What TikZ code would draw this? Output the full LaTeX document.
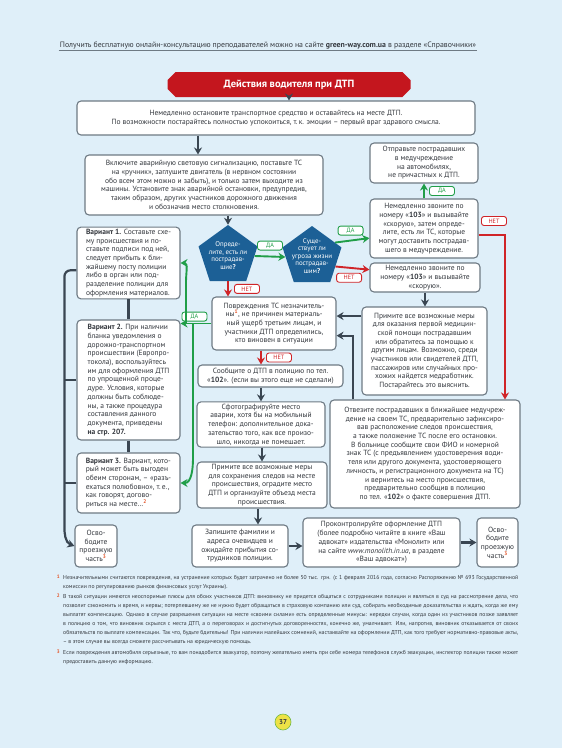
\documentclass[tikz,border=0pt]{standalone}
\usepackage{fontspec}
\setmainfont{PT Sans}
\usepackage{tikz}
\usetikzlibrary{arrows.meta, shapes.geometric, shapes.misc}
\usepackage{xcolor}
\definecolor{pageBg}{RGB}{223, 239, 249}
\definecolor{boxLine}{RGB}{110, 122, 132}
\definecolor{inkGray}{RGB}{52, 56, 62}
\definecolor{arrowGray}{RGB}{58, 70, 82}
\definecolor{okGreen}{RGB}{32, 158, 72}
\definecolor{noRed}{RGB}{208, 36, 40}
\definecolor{pentBlue}{RGB}{28, 96, 150}
\definecolor{titleRed}{RGB}{196, 22, 30}
\definecolor{noteRed}{RGB}{228, 84, 40}
\definecolor{pageYellow}{RGB}{238, 226, 70}

\newcommand\boxfont{\fontsize{7.5}{8.7}\selectfont}
\newcommand\fnref[1]{\textsuperscript{\textcolor{noteRed}{\bfseries #1}}}

\begin{document}
\begin{tikzpicture}[x=1pt, y=1pt, font=\boxfont, text=inkGray,
  box/.style={draw=boxLine, fill=white, rounded corners=4pt, line width=1.1pt,
              align=center, inner sep=2pt},
  varbox/.style={box, align=left},
  penta/.style={regular polygon, regular polygon sides=5, minimum size=62pt,
                inner sep=-13pt, fill=pentBlue, text=white, align=center,
                font=\fontsize{6.9}{7.5}\selectfont},
  yeslab/.style={draw=okGreen, fill=white, text=okGreen, rounded corners=2.5pt,
                 line width=0.9pt, font=\fontsize{6.2}{6.2}\selectfont,
                 minimum width=25pt, minimum height=9pt, inner sep=0.5pt},
  nolab/.style={yeslab, draw=noRed, text=noRed},
  darr/.style={-{Stealth[length=7pt,width=8pt]}, line width=2.2pt, draw=arrowGray},
  garr/.style={darr, line width=1.9pt, draw=okGreen},
  rarr/.style={darr, line width=1.9pt, draw=noRed},
  link/.style={line width=2.2pt, draw=arrowGray},
  footnote/.style={text width=455pt, align=justify, inner sep=0pt,
                   font=\fontsize{5.7}{9}\selectfont},
  fnnum/.style={text=noteRed, inner sep=0pt, font=\fontsize{5}{5}\bfseries}]

  % Page
  \useasboundingbox (0,0) rectangle (562,-748);
  \fill[pageBg] (0,0) rectangle (562,-748);

  % Running head
  \node[font=\fontsize{7.8}{8}\selectfont, inner sep=1pt] (runhead) at (268,-45)
    {Получить бесплатную онлайн-консультацию преподавателей можно на сайте
     \textbf{green-way.com.ua} в разделе «Справочники»};
  \draw[boxLine, line width=0.7pt] (runhead.south west) -- (runhead.south east);

  % Title
  \node[chamfered rectangle, chamfered rectangle xsep=5pt, fill=titleRed, text=white,
        minimum width=243pt, minimum height=25pt, inner sep=0pt,
        font=\fontsize{10.5}{12}\bfseries] (head) at (289,-84.5)
    {Действия водителя при ДТП};

  % Main column
  \node[box, minimum width=398pt, minimum height=34pt] (stop) at (276,-118)
    {Немедленно остановите транспортное средство и оставайтесь на месте ДТП.\\
     По возможности постарайтесь полностью успокоиться, т.\,к. эмоции – первый враг здравого смысла.};
  \node[box, minimum width=238pt, minimum height=60pt] (lights) at (204,-185)
    {Включите аварийную световую сигнализацию, поставьте ТС\\
     на «ручник», заглушите двигатель (в нервном состоянии\\
     обо всем этом можно и забыть), и только затем выходите из\\
     машины. Установите знак аварийной остановки, предупредив,\\
     таким образом, других участников дорожного движения\\
     и обозначив место столкновения.};
  \node[penta] (pentHurt) at (228,-256)
    {\\[-3pt]Опреде-\\лите, есть ли\\пострадав-\\шие\textbf{?}};
  \node[penta] (pentRisk) at (312,-257)
    {\\[-5pt]Суще-\\ствует ли\\угроза жизни\\пострадав-\\шим\textbf{?}};
  \node[box, minimum width=124pt, minimum height=53pt] (minor) at (274,-323.5)
    {Повреждения ТС незначитель-\\
     ны\fnref{1}, не причинен материаль-\\
     ный ущерб третьим лицам, и\\
     участники ДТП определились,\\
     кто виновен в ситуации};
  \node[box, minimum width=145pt, minimum height=22pt] (police) at (270.5,-376)
    {Сообщите о ДТП в полицию по тел.\\
     «\textbf{102}». (если вы этого еще не сделали)};
  \node[box, minimum width=128pt, minimum height=45pt] (photo) at (261,-424.5)
    {Сфотографируйте место\\
     аварии, хотя бы на мобильный\\
     телефон: дополнительное дока-\\
     зательство того, как все произо-\\
     шло, никогда не помешает.};
  \node[box, minimum width=130pt, minimum height=46pt] (keep) at (262,-485)
    {Примите все возможные меры\\
     для сохранения следов на месте\\
     происшествия, оградите место\\
     ДТП и организуйте объезд места\\
     происшествия.};
  \node[box, minimum width=96pt, minimum height=42pt] (witness) at (240,-546)
    {Запишите фамилии и\\
     адреса очевидцев и\\
     ожидайте прибытия со-\\
     трудников полиции.};
  \node[box, minimum width=157pt, minimum height=49pt] (check) at (381.5,-542.5)
    {Проконтролируйте оформление ДТП\\
     (более подробно читайте в книге «Ваш\\
     адвокат» издательства «Монолит» или\\
     на сайте \textit{www.monolith.in.ua}, в разделе\\
     «Ваш адвокат»)};
  \node[box, minimum width=41pt, minimum height=49pt] (clearR) at (497.5,-542.5)
    {Осво-\\бодите\\проезжую\\часть\fnref{3}};

  % Right column
  \node[box, minimum width=108pt, minimum height=40pt] (send) at (424,-163)
    {Отправьте пострадавших\\
     в медучреждение\\
     на автомобилях,\\
     не причастных к ДТП.};
  \node[box, minimum width=108pt, minimum height=59pt] (call) at (424,-228.5)
    {Немедленно звоните по\\
     номеру «\textbf{103}» и вызывайте\\
     «скорую», затем опреде-\\
     лите, есть ли ТС, которые\\
     могут доставить пострадав-\\
     шего в медучреждение.};
  \node[box, minimum width=110pt, minimum height=29pt] (amb) at (425,-277.5)
    {Немедленно звоните по\\
     номеру «\textbf{103}» и вызывайте\\
     «скорую».};
  \node[box, minimum width=125pt, minimum height=88pt] (aid) at (424.5,-351)
    {Примите все возможные меры\\
     для оказания первой медицин-\\
     ской помощи пострадавшим\\
     или обратитесь за помощью к\\
     другим лицам. Возможно, среди\\
     участников или свидетелей ДТП,\\
     пассажиров или случайных про-\\
     хожих найдется медработник.\\
     Постарайтесь это выяснить.};
  \node[box, minimum width=190pt, minimum height=108pt] (drive) at (425,-454)
    {Отвезите пострадавших в ближайшее медучреж-\\
     дение на своем ТС, предварительно зафиксиро-\\
     вав расположение следов происшествия,\\
     а также положение ТС после его остановки.\\
     В больнице сообщите свои ФИО и номерной\\
     знак ТС (с предъявлением удостоверения води-\\
     теля или другого документа, удостоверяющего\\
     личность, и регистрационного документа на ТС)\\
     и вернитесь на место происшествия,\\
     предварительно сообщив в полицию\\
     по тел. «\textbf{102}» о факте совершения ДТП.};

  % Left column
  \node[varbox, minimum width=103pt, minimum height=70pt] (varA) at (128.5,-263)
    {\textbf{Вариант 1.} Составьте схе-\\
     му происшествия и по-\\
     ставьте подписи под ней,\\
     следует прибыть к бли-\\
     жайшему посту полиции\\
     либо в орган или под-\\
     разделение полиции для\\
     оформления материалов.};
  \node[varbox, minimum width=103pt, minimum height=120pt] (varB) at (128.5,-380)
    {\textbf{Вариант 2.} При наличии\\
     бланка уведомления о\\
     дорожно-транспортном\\
     происшествии (Европро-\\
     токола), воспользуйтесь\\
     им для оформления ДТП\\
     по упрощенной проце-\\
     дуре. Условия, которые\\
     должны быть соблюде-\\
     ны, а также процедура\\
     составления данного\\
     документа, приведены\\
     \textbf{на стр. 207.}};
  \node[varbox, minimum width=103pt, minimum height=60pt] (varC) at (128.5,-483)
    {\textbf{Вариант 3.} Вариант, кото-\\
     рый может быть выгоден\\
     обеим сторонам, – «разъ-\\
     ехаться полюбовно», т.\,е.,\\
     как говорят, догово-\\
     риться на месте…\fnref{2}};
  \node[box, minimum width=42pt, minimum height=42pt] (clearL) at (96,-546)
    {Осво-\\бодите\\проезжую\\часть\fnref{3}};

  % Dark connectors
  \coordinate (colA) at (198,0);
  \coordinate (colB) at (258,0);
  \draw[darr] (head.south) -- (head.south |- stop.north);
  \draw[darr] (colA |- stop.south) -- (colA |- lights.north);
  \draw[darr] (pentHurt.north |- lights.south) -- (pentHurt.north);
  \draw[darr] (amb.south) -- (amb.south |- aid.north);
  \draw[darr] (aid.151) -- (aid.151 -| minor.east);
  \draw[darr] (drive.143) |- (minor.-11);
  \draw[darr] (photo.north |- police.south) -- (photo.north);
  \draw[darr] (keep.north |- photo.south) -- (keep.north);
  \draw[darr] (colB |- keep.south) -- (colB |- witness.north);
  \draw[darr] (witness.east) -- (witness.east -| check.west);
  \draw[darr] (check.east) -- (clearR.west);
  \draw[link] (varA.south) -- (varB.north);
  \draw[link] (varB.south) -- (varC.north);
  \draw[link] (varB.west) -- ++(-12,0);
  \draw[link] (varC.west) -- ++(-12,0);
  \draw[darr, rounded corners=6pt] (varA.188) -- ++(-12,0) -- ++(0,-252)
    to[out=-90, in=160] (clearL.west);

  % Yes branches
  \draw[garr] (pentHurt.east) -- (pentRisk.west)
    node[yeslab, midway, above=6pt] (yesHurt) {ДА};
  \draw[garr] (pentRisk.32) -- (call.190)
    node[yeslab, pos=0.45, above=5pt] (yesRisk) {ДА};
  \draw[garr] (call.north) -- (send.south)
    node[yeslab, midway, right=5pt] (yesCar) {ДА};
  \coordinate (jDown) at (193,-323.5);
  \coordinate (jUp) at (186,-323.5);
  \draw[garr] (minor.west) -- (minor.west -| varB.east)
    node[yeslab, pos=0.55, above=2pt] (yesMinor) {ДА};
  \draw[garr] (jUp) -- ++(0,42) to[out=90, in=0] (varA.east);
  \draw[garr] (jDown) -- ++(0,-135) to[out=-90, in=0] (varC.east);

  % No branches
  \draw[rarr] (pentHurt.south) -- (pentHurt.south |- minor.north)
    node[nolab, midway, right=6pt] (noHurt) {НЕТ};
  \draw[rarr] (pentRisk.-22) -- (amb.172)
    node[nolab, pos=0.4, below=5pt] (noRisk) {НЕТ};
  \coordinate (redRun) at (505,0);
  \draw[rarr] (call.-7) -| (redRun |- drive.north);
  \node[nolab] (noCar) at (494,-221) {НЕТ};
  \draw[rarr] (photo.north |- minor.south) -- (photo.north |- police.north)
    node[nolab, midway, right=5pt] (noMinor) {НЕТ};

  % Footnotes
  \node[footnote, anchor=north west] (fnA) at (63,-575)
    {Незначительными считаются повреждения, на устранение которых будет затрачено
     не более 50 тыс. грн. (с 1 февраля 2016 года, согласно Распоряжению № 693
     Государственной комиссии по регулированию рынков финансовых услуг Украины).};
  \node[footnote, anchor=north west] (fnB) at (63,-594)
    {В такой ситуации имеются неоспоримые плюсы для обоих участников ДТП: виновнику
     не придется общаться с сотрудниками полиции и являться в суд на рассмотрение
     дела, что позволит сэкономить и время, и нервы; потерпевшему же не нужно будет
     обращаться в страховую компанию или суд, собирать необходимые доказательства и
     ждать, когда же ему выплатят компенсацию. Однако в случае разрешения ситуации на
     месте «своими силами» есть определенные минусы: нередки случаи, когда один из
     участников позже заявляет в полицию о том, что виновник скрылся с места ДТП, а о
     переговорах и достигнутых договоренностях, конечно же, умалчивает. Или, напротив,
     виновник отказывается от своих обязательств по выплате компенсации. Так что,
     будьте бдительны! При наличии малейших сомнений, настаивайте на оформлении ДТП,
     как того требуют нормативно-правовые акты, – в этом случае вы всегда сможете
     рассчитывать на юридическую помощь.};
  \node[footnote, anchor=north west] (fnC) at (63,-650)
    {Если повреждения автомобиля серьезные, то вам понадобится эвакуатор, поэтому
     желательно иметь при себе номера телефонов служб эвакуации, инспектор полиции
     также может предоставить данную информацию.};
  \node[fnnum, anchor=north east] (fnAnum) at ([xshift=-3pt]fnA.north west) {1};
  \node[fnnum, anchor=north east] (fnBnum) at ([xshift=-3pt]fnB.north west) {2};
  \node[fnnum, anchor=north east] (fnCnum) at ([xshift=-3pt]fnC.north west) {3};

  % Page number
  \node[circle, fill=pageYellow, draw=okGreen!60!pageYellow, line width=0.6pt,
        minimum size=16pt, inner sep=0pt, font=\fontsize{7}{7}\bfseries] (pageNo)
    at (283,-722) {37};
\end{tikzpicture}
\end{document}
